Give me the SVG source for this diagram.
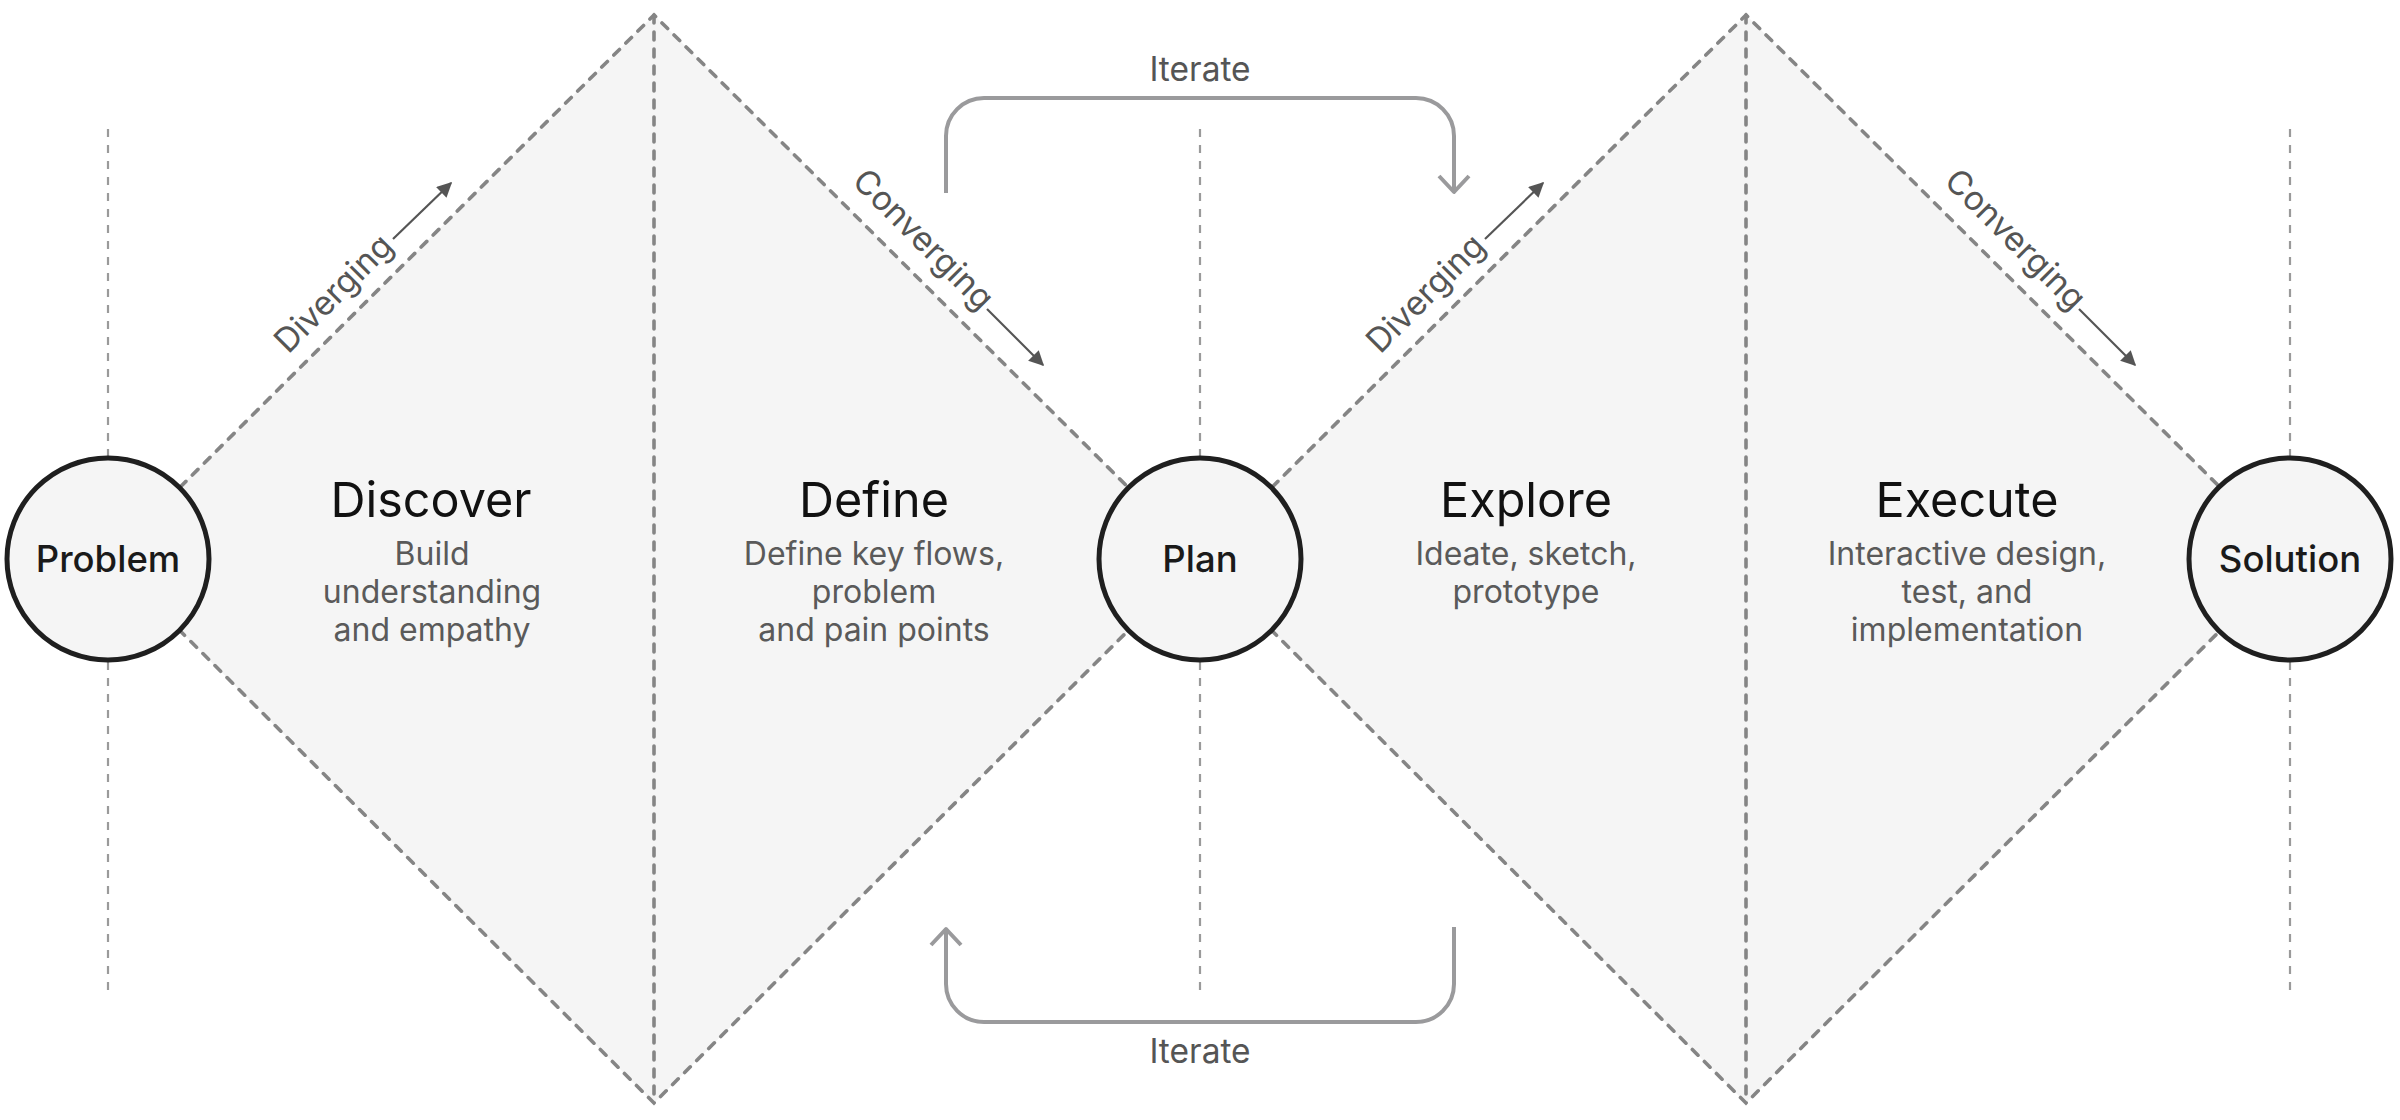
<svg xmlns="http://www.w3.org/2000/svg" width="2400" height="1120" viewBox="0 0 2400 1120">
  <defs>
    <style>
      .fill { fill: #f5f5f5; stroke: none; }
      .edge { fill: none; stroke: #858585; stroke-width: 3.6; stroke-dasharray: 8 9; stroke-linecap: round; }
      .axis { fill: none; stroke: #858585; stroke-width: 3.6; stroke-dasharray: 8 9; stroke-linecap: round; }
      .guide { fill: none; stroke: #9a9a9a; stroke-width: 2.2; stroke-dasharray: 8 8; }
      .node circle { fill: #f5f5f5; stroke: #1f1f1f; stroke-width: 5; }
      .node text { font-family: Inter, "Liberation Sans", sans-serif; font-size: 36.5px; font-weight: 500; fill: #1a1a1a; text-anchor: middle; }
      .title { font-family: Inter, "Liberation Sans", sans-serif; font-size: 48.5px; fill: #111; text-anchor: middle; }
      .sub { font-family: Inter, "Liberation Sans", sans-serif; font-size: 32px; fill: #5a5a5a; text-anchor: middle; }
      .iter { fill: none; stroke: #9a9a9c; stroke-width: 4; stroke-linejoin: round; }
      .iterlbl { font-family: Inter, "Liberation Sans", sans-serif; font-size: 33.5px; fill: #555; text-anchor: middle; }
      .dir { font-family: Inter, "Liberation Sans", sans-serif; font-size: 33.5px; fill: #555; text-anchor: end; }
      .dirarrow { fill: none; stroke: #555; stroke-width: 2.2; }
    </style>
    <marker id="tri" viewBox="0 0 10 10" refX="9" refY="5" markerWidth="17" markerHeight="15" markerUnits="userSpaceOnUse" orient="auto">
      <path d="M0,0 L10,5 L0,10 Z" fill="#555"/>
    </marker>
  </defs>

  <g id="diamonds">
    <polygon class="fill" points="108,559 654,15 1200,559 654,1103"/>
    <polygon class="fill" points="1200,559 1746,15 2292,559 1746,1103"/>
    <polygon class="edge" points="108,559 654,15 1200,559 654,1103"/>
    <polygon class="edge" points="1200,559 1746,15 2292,559 1746,1103"/>
    <line class="axis" x1="654" y1="15" x2="654" y2="1103"/>
    <line class="axis" x1="1746" y1="15" x2="1746" y2="1103"/>
  </g>

  <g id="guides">
    <line class="guide" x1="108" y1="129" x2="108" y2="456"/>
    <line class="guide" x1="108" y1="662" x2="108" y2="992"/>
    <line class="guide" x1="1200" y1="129" x2="1200" y2="456"/>
    <line class="guide" x1="1200" y1="662" x2="1200" y2="992"/>
    <line class="guide" x1="2290" y1="129" x2="2290" y2="456"/>
    <line class="guide" x1="2290" y1="662" x2="2290" y2="992"/>
  </g>

  <g id="phase-discover">
    <text class="title" x="431" y="517">Discover</text>
    <text class="sub" x="432" y="565">Build</text>
    <text class="sub" x="432" y="603">understanding</text>
    <text class="sub" x="432" y="641">and empathy</text>
  </g>
  <g id="phase-define">
    <text class="title" x="874" y="517">Define</text>
    <text class="sub" x="874" y="565">Define key flows,</text>
    <text class="sub" x="874" y="603">problem</text>
    <text class="sub" x="874" y="641">and pain points</text>
  </g>
  <g id="phase-explore">
    <text class="title" x="1526" y="517">Explore</text>
    <text class="sub" x="1526" y="565">Ideate, sketch,</text>
    <text class="sub" x="1526" y="603">prototype</text>
  </g>
  <g id="phase-execute">
    <text class="title" x="1967" y="517">Execute</text>
    <text class="sub" x="1967" y="565">Interactive design,</text>
    <text class="sub" x="1967" y="603">test, and</text>
    <text class="sub" x="1967" y="641">implementation</text>
  </g>

  <g id="node-problem" class="node">
    <circle cx="108" cy="559" r="101"/>
    <text x="108" y="572">Problem</text>
  </g>
  <g id="node-plan" class="node">
    <circle cx="1200" cy="559" r="101"/>
    <text x="1200" y="572">Plan</text>
  </g>
  <g id="node-solution" class="node">
    <circle cx="2290" cy="559" r="101"/>
    <text x="2290" y="572">Solution</text>
  </g>

  <g id="connectors">
    <path class="iter" d="M946,193 V136 A38,38 0 0 1 984,98 H1416 A38,38 0 0 1 1454,136 V192"/>
    <polyline class="iter" points="1439,176 1454,192 1469,176"/>
    <path class="iter" d="M1454,927 V984 A38,38 0 0 1 1416,1022 H984 A38,38 0 0 1 946,984 V929"/>
    <polyline class="iter" points="931,945 946,929 961,945"/>
    <line class="dirarrow" x1="393" y1="239" x2="451" y2="183" marker-end="url(#tri)"/>
    <line class="dirarrow" x1="987" y1="309" x2="1043" y2="365" marker-end="url(#tri)"/>
    <line class="dirarrow" x1="1485" y1="239" x2="1543" y2="183" marker-end="url(#tri)"/>
    <line class="dirarrow" x1="2079" y1="309" x2="2135" y2="365" marker-end="url(#tri)"/>
  </g>

  <g id="labels">
    <text class="iterlbl" x="1200" y="81">Iterate</text>
    <text class="iterlbl" x="1200" y="1063">Iterate</text>
    <text class="dir" transform="translate(395,248) rotate(-45)">Diverging</text>
    <text class="dir" transform="translate(980,312) rotate(45)">Converging</text>
    <text class="dir" transform="translate(1487,248) rotate(-45)">Diverging</text>
    <text class="dir" transform="translate(2072,312) rotate(45)">Converging</text>
  </g>
</svg>
